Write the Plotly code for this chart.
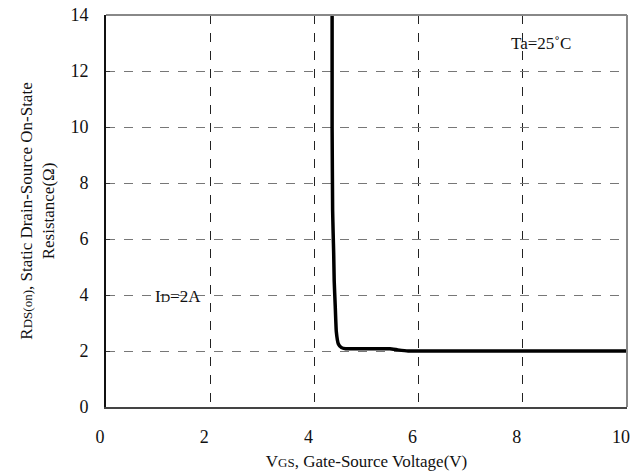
import plotly.graph_objects as go

vgs = [4.34, 4.34, 4.35, 4.36, 4.37, 4.38, 4.40, 4.42, 4.46, 4.52, 4.60, 5.0, 5.45, 5.6, 5.8, 6.5, 8.0, 10.0]
rds = [14.0, 10.0, 7.0, 6.2, 5.5, 4.5, 3.6, 2.7, 2.25, 2.12, 2.08, 2.08, 2.08, 2.04, 2.0, 2.0, 2.0, 2.0]

x_ticks = [0, 2, 4, 6, 8, 10]
y_ticks = [0, 2, 4, 6, 8, 10, 12, 14]

FONT = "Liberation Serif"

fig = go.Figure()
fig.add_trace(go.Scatter(x=vgs, y=rds, mode="lines",
                         line=dict(color="black", width=3.5, shape="spline", smoothing=0.3),
                         showlegend=False, hoverinfo="skip"))

fig.update_layout(
    width=640, height=475,
    margin=dict(l=106, r=13, t=15, b=68, autoexpand=False),
    paper_bgcolor="white", plot_bgcolor="white",
    font=dict(family=FONT, size=16, color="#111"),
    xaxis=dict(range=[0, 10], tickvals=x_ticks, ticks="", showgrid=True,
               gridcolor="#222", griddash="dash", gridwidth=1,
               showline=True, linecolor="#444", linewidth=2, mirror=False,
               zeroline=False, tickfont=dict(size=18, family=FONT), automargin=False,
               ticklabelshift=-6, ticklabelstandoff=12, ticklabeloverflow="allow",
               title=dict(text="V<span style='font-size:13px'>GS</span>, Gate-Source Voltage(V)",
                          font=dict(size=17, family=FONT), standoff=10)),
    yaxis=dict(range=[0, 14], tickvals=y_ticks, ticks="inside", ticklen=4, tickcolor="#333",
               showgrid=True, gridcolor="#777", griddash="dash", gridwidth=1,
               showline=True, linecolor="#111", linewidth=2, mirror=False,
               zeroline=False, tickfont=dict(size=18, family=FONT), automargin=False,
               ticklabelstandoff=12, ticklabeloverflow="allow",
               title=dict(text="R<span style='font-size:13px'>DS(on)</span>, Static Drain-Source On-State<br>Resistance(Ω)",
                          font=dict(size=17, family=FONT), standoff=11)),
)

# top and right border
fig.add_shape(type="line", xref="paper", yref="paper", x0=0, x1=1, y0=1, y1=1,
              line=dict(color="#888", width=2))
fig.add_shape(type="line", xref="paper", yref="paper", x0=1, x1=1, y0=0, y1=1,
              line=dict(color="#888", width=2))

fig.add_annotation(x=8.35, y=13.0, text="Ta=25˚C", showarrow=False,
                   font=dict(size=17, family=FONT, color="#111"))
fig.add_annotation(x=1.38, y=3.93, text="I<span style='font-size:13px'>D</span>=2A", showarrow=False,
                   font=dict(size=17, family=FONT, color="#111"))

fig.write_html("out.html", post_script="document.body.style.margin='0';",
               config={"displayModeBar": False, "staticPlot": True})
